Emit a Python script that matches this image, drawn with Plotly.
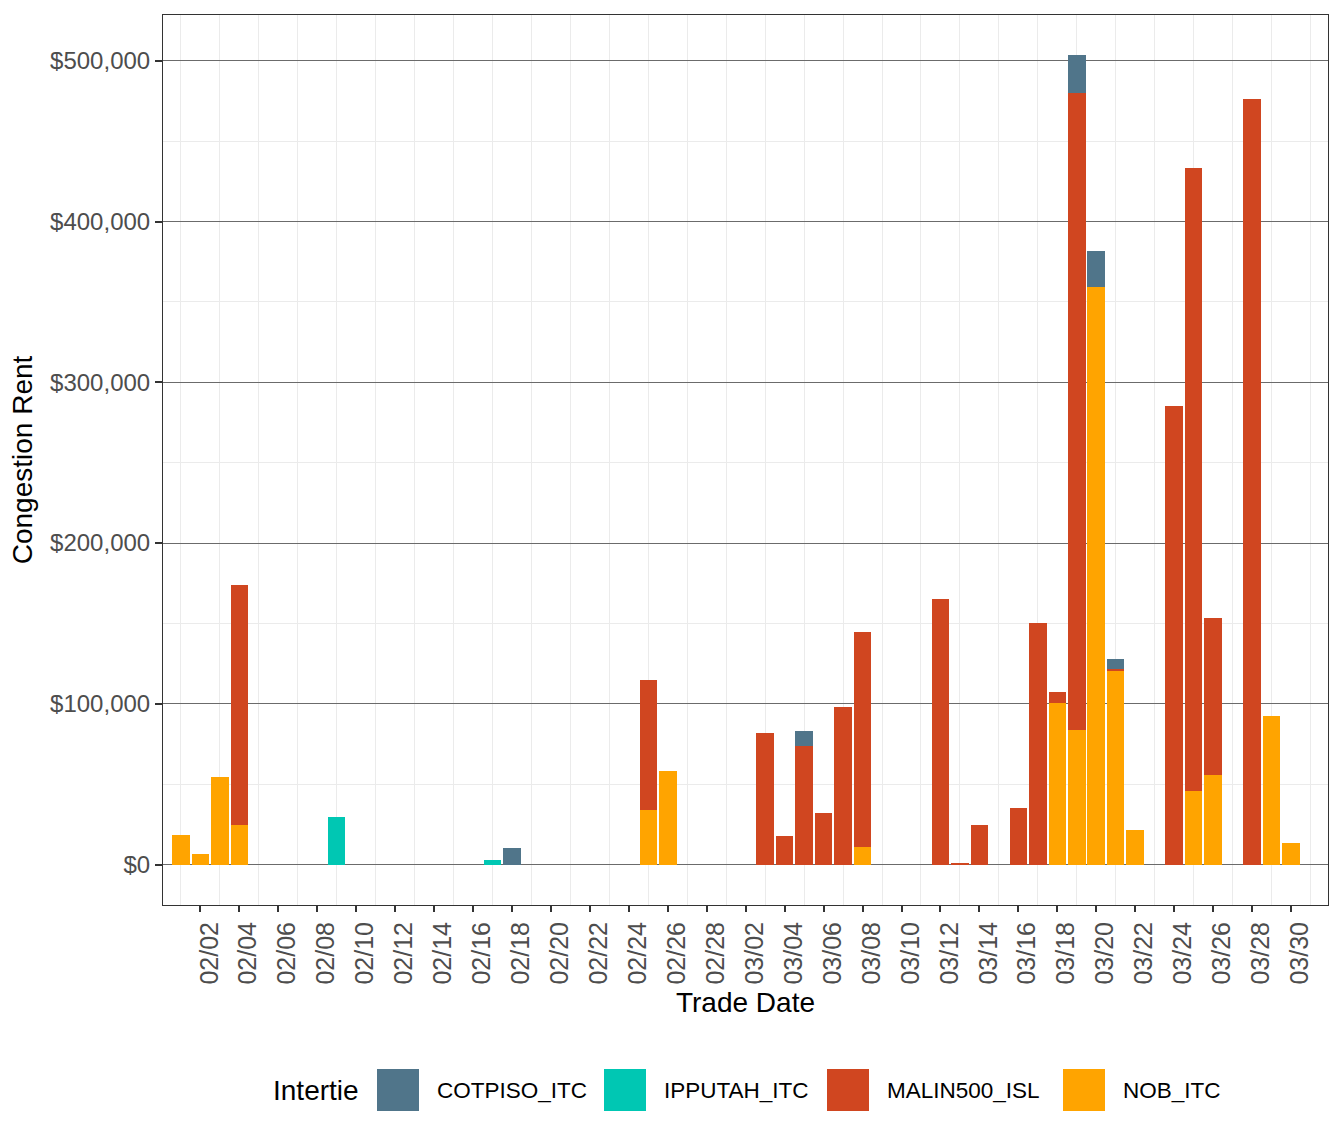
import plotly.graph_objects as go

# ---- data ----
dates = ["2025-02-01", "2025-02-02", "2025-02-03", "2025-02-04", "2025-02-09",
         "2025-02-17", "2025-02-18", "2025-02-25", "2025-02-26", "2025-03-03",
         "2025-03-04", "2025-03-05", "2025-03-06", "2025-03-07", "2025-03-08",
         "2025-03-12", "2025-03-13", "2025-03-14", "2025-03-16", "2025-03-17",
         "2025-03-18", "2025-03-19", "2025-03-20", "2025-03-21", "2025-03-22",
         "2025-03-24", "2025-03-25", "2025-03-26", "2025-03-28", "2025-03-29",
         "2025-03-30"]

nob_itc = [18200, 6400, 54200, 24400, 0,
           0, 0, 33700, 58000, 0,
           0, 0, 0, 0, 10700,
           0, 0, 0, 0, 0,
           100800, 84000, 359200, 120700, 21300,
           0, 45500, 55500, 0, 92100,
           13200]

malin500_isl = [0, 0, 0, 149700, 0,
                0, 0, 80800, 0, 81600,
                17600, 73500, 31900, 98300, 134200,
                165400, 1000, 24400, 35000, 150500,
                6800, 395700, 0, 1200, 0,
                285300, 387600, 98100, 476000, 0,
                0]

ipputah_itc = [0, 0, 0, 0, 29400,
               2700, 0, 0, 0, 0,
               0, 0, 0, 0, 0,
               0, 0, 0, 0, 0,
               0, 0, 0, 0, 0,
               0, 0, 0, 0, 0,
               0]

cotpiso_itc = [0, 0, 0, 0, 0,
               0, 10100, 0, 0, 0,
               0, 9300, 0, 0, 0,
               0, 0, 0, 0, 0,
               0, 23600, 22400, 6200, 0,
               0, 0, 0, 0, 0,
               0]

series_names = ["COTPISO_ITC", "IPPUTAH_ITC", "MALIN500_ISL", "NOB_ITC"]
series_values = [cotpiso_itc, ipputah_itc, malin500_isl, nob_itc]
series_colors = ["#50758A", "#00C7B3", "#D04620", "#FFA400"]

DAY_MS = 86400000
FONT = "Liberation Sans, Arial, Helvetica, sans-serif"

fig = go.Figure()
# ggplot stacks last factor level at the bottom -> add in reverse order
for name, vals, col in reversed(list(zip(series_names, series_values, series_colors))):
    fig.add_trace(go.Bar(
        x=dates, y=vals, name=name, width=0.9 * DAY_MS,
        marker=dict(color=col, line=dict(width=0)),
        showlegend=False,
    ))

totals = [sum(v) for v in zip(*series_values)]
ymax = max(totals)
yrange = [-0.05 * ymax, 1.05 * ymax]

# ---- custom legend (large ggplot-style keys) ----
W, H = 1344, 1142
ML, MR, MT, MB = 163, 16, 15, 237
PW, PH = W - ML - MR, H - MT - MB

def px_x(px):
    return (px - ML) / PW

def px_y(py):
    return (H - MB - py) / PH

key_left = [377, 604, 827, 1063]
key_size = 42
key_top = 1069
shapes = []
annotations = [dict(text="Intertie", x=px_x(271), y=px_y(key_top + key_size / 2),
                    xref="paper", yref="paper", xanchor="left", yanchor="middle",
                    showarrow=False, font=dict(family=FONT, size=28, color="black"))]
for name, col, kl in zip(series_names, series_colors, key_left):
    shapes.append(dict(type="rect", xref="paper", yref="paper",
                       x0=px_x(kl), x1=px_x(kl + key_size),
                       y0=px_y(key_top + key_size), y1=px_y(key_top),
                       fillcolor=col, line=dict(width=0)))
    annotations.append(dict(text=name, x=px_x(kl + key_size + 16),
                            y=px_y(key_top + key_size / 2),
                            xref="paper", yref="paper", xanchor="left", yanchor="middle",
                            showarrow=False, font=dict(family=FONT, size=22.5, color="black")))

fig.update_layout(
    barmode="stack",
    width=W, height=H,
    margin=dict(l=ML, r=MR, t=MT, b=MB, autoexpand=False),
    paper_bgcolor="white", plot_bgcolor="white",
    font=dict(family=FONT, size=22, color="#4D4D4D"),
    shapes=shapes, annotations=annotations,
    showlegend=False,
)

fig.update_xaxes(
    type="date",
    range=["2025-01-31 01:55", "2025-03-31 21:36"],
    tick0="2025-02-02", dtick=2 * DAY_MS, tickformat="%m/%d",
    tickangle=-90, ticks="outside", ticklen=6, tickwidth=2, tickcolor="#333333",
    tickfont=dict(family=FONT, size=25, color="#4D4D4D"),
    ticklabelshift=9,
    showgrid=False, zeroline=False,
    showline=True, linecolor="#333333", linewidth=1, mirror=True,
    minor=dict(tick0="2025-02-01", dtick=2 * DAY_MS, showgrid=True,
               gridcolor="#EBEBEB", gridwidth=1, ticks=""),
    title=dict(text="Trade Date", font=dict(family=FONT, size=28, color="black"), standoff=8),
)

fig.update_yaxes(
    range=yrange,
    tick0=0, dtick=100000, tickprefix="$", tickformat=",",
    ticks="outside", ticklen=7, tickwidth=2, tickcolor="#333333",
    tickfont=dict(family=FONT, size=24, color="#4D4D4D"),
    showgrid=True, gridcolor="#6B6B6B", gridwidth=1, zeroline=False,
    showline=True, linecolor="#333333", linewidth=1, mirror=True,
    minor=dict(dtick=50000, showgrid=True, gridcolor="#EBEBEB", gridwidth=1, ticks=""),
    title=dict(text="Congestion Rent", font=dict(family=FONT, size=28, color="black"), standoff=9),
)

fig.write_html("out.html")
